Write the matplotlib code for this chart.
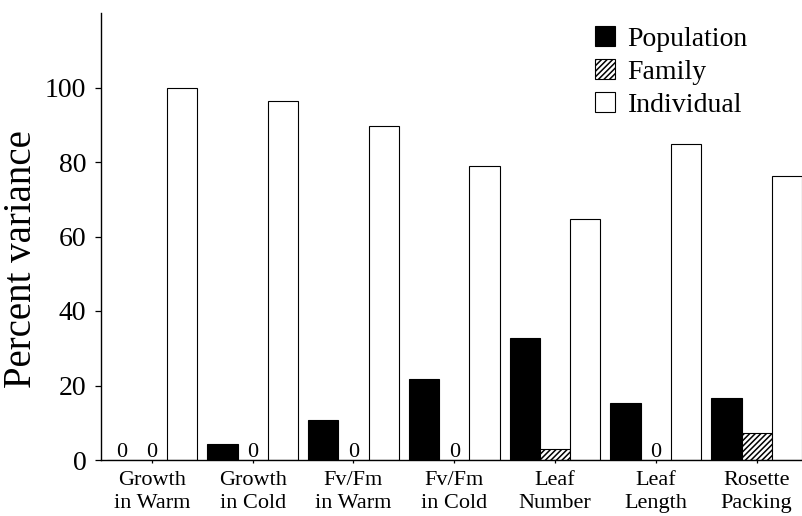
import numpy as np
import matplotlib.pyplot as plt

plt.rcParams['font.family'] = ['Liberation Serif', 'DejaVu Serif']
plt.rcParams['hatch.linewidth'] = 1.1

categories = ["Growth\nin Warm", "Growth\nin Cold", "Fv/Fm\nin Warm", "Fv/Fm\nin Cold",
              "Leaf\nNumber", "Leaf\nLength", "Rosette\nPacking"]
population = [0, 4.2, 10.8, 21.7, 32.7, 15.4, 16.7]
family = [0, 0, 0, 0, 3.0, 0, 7.2]
individual = [100, 96.3, 89.6, 78.8, 64.7, 84.9, 76.2]
series_names = ["Population", "Family", "Individual"]

fig = plt.figure(figsize=(8.02, 5.16), dpi=100)
ax = fig.add_axes([101 / 802, 56 / 516, 701 / 802, 447 / 516])

x = np.arange(len(categories))
w = 0.3
kw = dict(width=w, edgecolor="black", linewidth=0.8)
b_pop = ax.bar(x - w, population, color="black", **kw)
b_fam = ax.bar(x, family, color="white", hatch="//////", **kw)
b_ind = ax.bar(x + w, individual, color="white", **kw)

# mark zero components with a "0"
for offs, vals in ((-w, population), (0, family), (w, individual)):
    for xi, v in zip(x, vals):
        if v == 0:
            ax.annotate("0", (xi + offs, 0), xytext=(0, 2), textcoords="offset points",
                        ha="center", va="baseline", fontsize=16)

ax.set_xlim(-0.505, 6.45)
ax.set_ylim(0, 120)
ax.set_yticks(np.arange(0, 101, 20))
ax.set_xticks(x)
ax.set_xticklabels(categories, fontsize=16, linespacing=1.3)
ax.tick_params(axis="y", labelsize=20, length=4.5, width=0.9, pad=6)
ax.tick_params(axis="x", length=2.5, width=0.9, pad=5.5)

for s in ("top", "right"):
    ax.spines[s].set_visible(False)
for s in ("left", "bottom"):
    ax.spines[s].set_linewidth(1.0)

ax.set_ylabel("Percent variance", fontsize=28, va="center")
ax.yaxis.set_label_coords(-0.113, 0.45)

ax.legend([b_pop, b_fam, b_ind], series_names, loc="upper left",
          bbox_to_anchor=(595 / 802, 1 - 26 / 516), bbox_transform=fig.transFigure,
          frameon=False, fontsize=20, handlelength=0.72, handleheight=0.72,
          handletextpad=0.45, labelspacing=0.27, borderpad=0, borderaxespad=0)

fig.savefig("out.png", dpi=100)
